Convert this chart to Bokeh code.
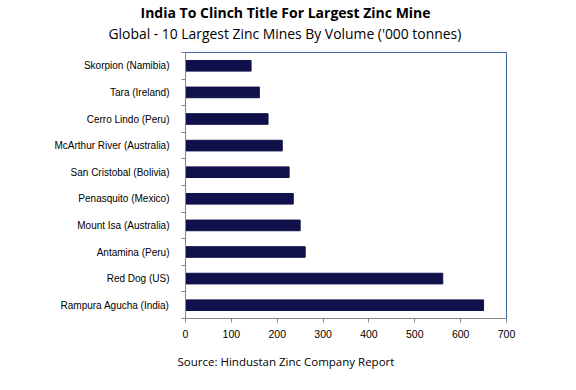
from bokeh.plotting import figure
from bokeh.models import Range1d, FixedTicker, Title, ColumnDataSource
from bokeh.embed import file_html
from bokeh.resources import INLINE

# Data (bottom to top as drawn)
mines = ["Rampura Agucha (India)", "Red Dog (US)", "Antamina (Peru)",
         "Mount Isa (Australia)", "Penasquito (Mexico)", "San Cristobal (Bolivia)",
         "McArthur River (Australia)", "Cerro Lindo (Peru)", "Tara (Ireland)",
         "Skorpion (Namibia)"]
volumes = [650, 561, 261, 250, 235, 226, 211, 180, 161, 143]
x_ticks = [0, 100, 200, 300, 400, 500, 600, 700]

main_title = "India To Clinch Title For Largest Zinc Mine"
sub_title = "Global - 10 Largest Zinc Mines By Volume ('000 tonnes)"
source_note = "Source: Hindustan Zinc Company Report"

pos = list(range(len(mines)))
src = ColumnDataSource(dict(y=pos, v=volumes))

p = figure(frame_width=321, frame_height=266, output_backend="svg", toolbar_location=None,
           x_range=Range1d(x_ticks[0], x_ticks[-1]),
           y_range=Range1d(-0.5, len(mines) - 0.5),
           min_border_left=185, min_border_right=62,
           min_border_top=52, min_border_bottom=55)

p.hbar(y="y", left=0, right="v", height=0.4, source=src,
       fill_color="#10114A", line_color="#10114A")

# Axes
gray = "#868686"
p.xaxis.ticker = FixedTicker(ticks=x_ticks)
p.xaxis.axis_line_color = gray
p.xaxis.major_tick_line_color = gray
p.xaxis.major_tick_out = 4
p.xaxis.major_tick_in = 0
p.xaxis.minor_tick_line_color = None
p.xaxis.major_label_text_font = "Liberation Sans"
p.xaxis.major_label_text_font_size = "10.5px"
p.xaxis.major_label_text_color = "#000000"
p.xaxis.major_label_standoff = 7

p.yaxis.ticker = FixedTicker(ticks=pos, minor_ticks=[i - 0.5 for i in range(len(mines) + 1)])
p.yaxis.major_label_overrides = {i: m for i, m in enumerate(mines)}
p.yaxis.axis_line_color = gray
p.yaxis.major_tick_line_color = None
p.yaxis.minor_tick_line_color = gray
p.yaxis.minor_tick_out = 4
p.yaxis.minor_tick_in = 0
p.yaxis.major_label_text_font = "Liberation Sans"
p.yaxis.major_label_text_font_size = "10px"
p.yaxis.major_label_text_color = "#000000"
p.yaxis.major_label_standoff = 10

p.xgrid.grid_line_color = None
p.ygrid.grid_line_color = None
p.outline_line_color = "#3A66A0"
p.outline_line_width = 1

# Titles
p.add_layout(Title(text=sub_title, align="left", offset=-77, standoff=19,
                   text_font="Open Sans", text_font_style="normal",
                   text_font_size="13.9px", text_color="#000000"), "above")
p.add_layout(Title(text=main_title, align="left", offset=-45, standoff=-19,
                   text_font="Open Sans", text_font_style="bold",
                   text_font_size="14px", text_color="#000000"), "above")
p.add_layout(Title(text=source_note, align="left", offset=-8, standoff=22,
                   text_font="Open Sans", text_font_style="normal",
                   text_font_size="11.5px", text_color="#000000"), "below")

open("out.html", "w").write(file_html(p, INLINE))
